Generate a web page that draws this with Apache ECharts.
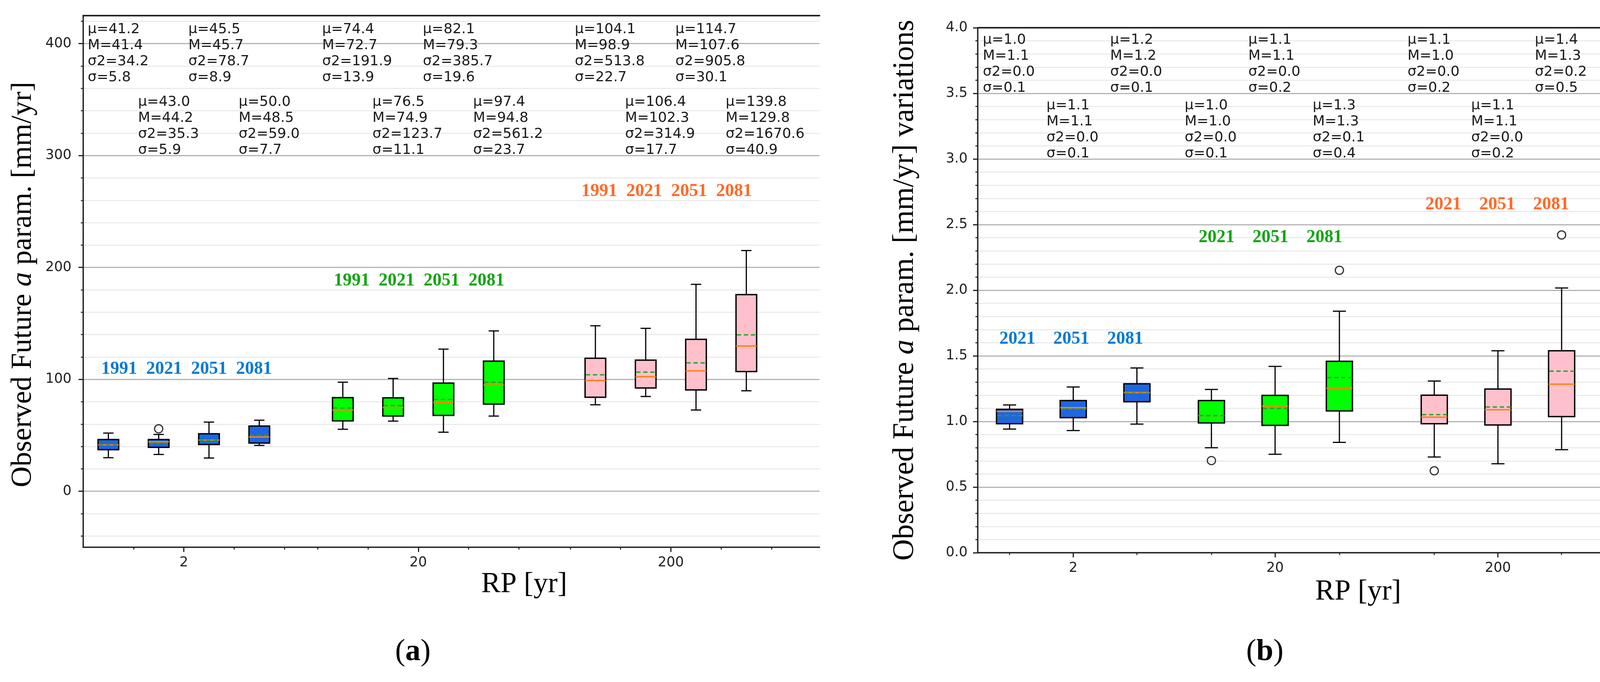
<!DOCTYPE html>
<html><head><meta charset="utf-8">
<script src="https://cdn.jsdelivr.net/npm/echarts@6/dist/echarts.min.js"></script>
<style>html,body{margin:0;padding:0;background:#fff}#c{width:4168px;height:1746px}</style>
</head><body><div id="c"></div>
<script>
// ================= DATA =================
const rpLabels = ['2', '20', '200'];
const yearsA = ['1991', '2021', '2051', '2081'];
const yearsB = ['2021', '2051', '2081'];

// ---- Panel (a): observed future a param [mm/yr] ----
const posA   = [0.5, 1.5, 2.5, 3.5, 5.16, 6.16, 7.16, 8.16, 10.18, 11.18, 12.18, 13.18];
const groupA = [0, 0, 0, 0, 1, 1, 1, 1, 2, 2, 2, 2];
const lowA   = [30.0, 32.9, 29.7, 41.0, 55.4, 62.7, 52.8, 67.2, 77.3, 84.7, 72.6, 89.8];
const q1A    = [37.2, 39.3, 41.8, 43.1, 62.9, 67.3, 67.8, 77.9, 84.0, 92.3, 90.6, 107.0];
const q3A    = [46.2, 46.2, 51.4, 58.3, 83.7, 83.5, 96.7, 116.3, 118.8, 117.2, 135.8, 175.7];
const highA  = [52.0, 50.8, 61.8, 63.5, 97.5, 100.8, 127.0, 143.3, 147.9, 145.6, 184.9, 215.1];
const muA    = [41.2, 43.0, 45.5, 50.0, 74.4, 76.5, 82.1, 97.4, 104.1, 106.4, 114.7, 139.8];
const medA   = [41.4, 44.2, 45.7, 48.5, 72.7, 74.9, 79.3, 94.8, 98.9, 102.3, 107.6, 129.8];
const varA   = [34.2, 35.3, 78.7, 59.0, 191.9, 123.7, 385.7, 561.2, 513.8, 314.9, 905.8, 1670.6];
const sdA    = [5.8, 5.9, 8.9, 7.7, 13.9, 11.1, 19.6, 23.7, 22.7, 17.7, 30.1, 40.9];
const outBoxA = [1];
const outValA = [55.8];
const majorTickA = [2.0, 6.66, 11.68];
const minorTickA = [1, 3, 4, 4.66, 5.66, 7.66, 8.66, 9.68, 10.68, 12.68, 13.68];
const yearLabelXA = [0.36, 4.98, 9.90];
const yearLabelYA = [109, 188, 268];
const statRowYA = [419.7, 354.8];

// ---- Panel (b): variations ----
const posB   = [0.5, 1.5, 2.5, 3.67, 4.67, 5.68, 7.17, 8.17, 9.17];
const groupB = [0, 0, 0, 1, 1, 1, 2, 2, 2];
const lowB   = [0.942, 0.931, 0.980, 0.800, 0.750, 0.841, 0.729, 0.678, 0.785];
const q1B    = [0.983, 1.029, 1.150, 0.989, 0.970, 1.080, 0.983, 0.973, 1.037];
const medB   = [1.077, 1.105, 1.220, 1.045, 1.117, 1.253, 1.033, 1.089, 1.284];
const q3B    = [1.092, 1.159, 1.287, 1.159, 1.199, 1.458, 1.200, 1.247, 1.539];
const highB  = [1.126, 1.263, 1.408, 1.244, 1.420, 1.840, 1.308, 1.539, 2.017];
const meanB  = [1.045, 1.095, 1.216, 1.045, 1.100, 1.334, 1.052, 1.110, 1.383];
const muB    = ['1.0', '1.1', '1.2', '1.0', '1.1', '1.3', '1.1', '1.1', '1.4'];
const mB     = ['1.1', '1.1', '1.2', '1.0', '1.1', '1.3', '1.0', '1.1', '1.3'];
const varB   = ['0.0', '0.0', '0.0', '0.0', '0.0', '0.1', '0.0', '0.0', '0.2'];
const sdB    = ['0.1', '0.1', '0.1', '0.1', '0.2', '0.4', '0.2', '0.2', '0.5'];
const outBoxB = [3, 5, 6, 8];
const outValB = [0.702, 2.152, 0.624, 2.421];
const majorTickB = [1.5, 4.67, 8.17];
const minorTickB = [0.5, 2.5, 3.67, 5.68, 7.17, 9.17];
const yearLabelXB = [0.34, 3.47, 7.03];
const yearLabelYB = [1.627, 2.402, 2.652];
const statRowYB = [3.967, 3.466];

// ================= STYLE =================
const boxFill = ['#1f66e0', '#00ff00', '#ffc0cb'];
const yearColor = ['#0a7ad0', '#12a512', '#ff6a28'];
const SANS = '"DejaVu Sans"';
const SERIF = '"Liberation Serif"';
const AXC = '#222';

function boxSeries(xi, yi, pos, grp, lo, q1, md, q3, hi, mn, boxW) {
  return {
    type: 'custom', xAxisIndex: xi, yAxisIndex: yi, z: 3, silent: true,
    data: pos.map((p, i) => [p, lo[i], q1[i], md[i], q3[i], hi[i], mn[i], grp[i]]),
    renderItem(params, api) {
      const x = api.value(0);
      const pLo = api.coord([x, api.value(1)]);
      const pQ1 = api.coord([x, api.value(2)]);
      const pMd = api.coord([x, api.value(3)]);
      const pQ3 = api.coord([x, api.value(4)]);
      const pHi = api.coord([x, api.value(5)]);
      const pMn = api.coord([x, api.value(6)]);
      const g = api.value(7);
      const bw = api.size([boxW, 0])[0];
      const cw = bw / 2;
      const cx = pLo[0];
      const ls = { stroke: '#000', lineWidth: 3 };
      return {
        type: 'group', children: [
          { type: 'line', shape: { x1: cx, y1: pQ3[1], x2: cx, y2: pHi[1] }, style: ls },
          { type: 'line', shape: { x1: cx, y1: pQ1[1], x2: cx, y2: pLo[1] }, style: ls },
          { type: 'line', shape: { x1: cx - cw / 2, y1: pHi[1], x2: cx + cw / 2, y2: pHi[1] }, style: ls },
          { type: 'line', shape: { x1: cx - cw / 2, y1: pLo[1], x2: cx + cw / 2, y2: pLo[1] }, style: ls },
          { type: 'rect', shape: { x: cx - bw / 2, y: pQ3[1], width: bw, height: pQ1[1] - pQ3[1] },
            style: { fill: boxFill[g], stroke: '#000', lineWidth: 3.5 } },
          { type: 'line', shape: { x1: cx - bw / 2, y1: pMd[1], x2: cx + bw / 2, y2: pMd[1] },
            style: { stroke: '#ff7f0e', lineWidth: 3.5 } },
          { type: 'line', shape: { x1: cx - bw / 2 + 2, y1: pMn[1], x2: cx + bw / 2, y2: pMn[1] },
            style: { stroke: '#2ca02c', lineWidth: 3.5, lineDash: [11, 7] } }
        ]
      };
    }
  };
}

function textSeries(xi, yi, pts, texts, colors, font, lineHeight, va) {
  return {
    type: 'custom', xAxisIndex: xi, yAxisIndex: yi, z: 4, silent: true,
    data: pts,
    renderItem(params, api) {
      const p = api.coord([api.value(0), api.value(1)]);
      return {
        type: 'text', x: p[0], y: p[1],
        style: { text: texts[params.dataIndex], fill: colors[params.dataIndex], font: font,
                 align: 'left', verticalAlign: va, lineHeight: lineHeight }
      };
    }
  };
}

function outlierSeries(xi, yi, pos, idx, vals) {
  return {
    type: 'scatter', xAxisIndex: xi, yAxisIndex: yi, z: 5, silent: true,
    symbol: 'circle', symbolSize: 21,
    itemStyle: { color: 'rgba(0,0,0,0)', borderColor: '#000', borderWidth: 3 },
    data: idx.map((b, k) => [pos[b], vals[k]])
  };
}

function xAxes(grid, max, major, minor) {
  const base = { type: 'value', gridIndex: grid, min: 0, max: max, splitLine: { show: false }, z: 1 };
  return [
    Object.assign({}, base, {
      position: 'bottom',
      axisLine: { show: true, onZero: false, lineStyle: { color: AXC, width: 3.5 } },
      axisTick: { show: true, customValues: major, length: 12, lineStyle: { color: AXC, width: 3 } },
      axisLabel: { show: true, customValues: major, margin: 22, color: AXC, fontSize: 35, fontFamily: SANS,
        formatter: v => { let k = 0; major.forEach((m, i) => { if (Math.abs(m - v) < Math.abs(major[k] - v)) k = i; }); return rpLabels[k]; } }
    }),
    Object.assign({}, base, {
      position: 'bottom',
      axisLine: { show: false, onZero: false },
      axisTick: { show: true, customValues: minor, length: 6, lineStyle: { color: AXC, width: 2.5 } },
      axisLabel: { show: false }
    }),
    Object.assign({}, base, {
      position: 'top',
      axisLine: { show: true, onZero: false, lineStyle: { color: AXC, width: 4 } },
      axisTick: { show: false }, axisLabel: { show: false }
    })
  ];
}

const chart = echarts.init(document.getElementById('c'), null, { renderer: 'canvas', width: 4168, height: 1746 });

function yNameStyle(size, pad) {
  return { fontFamily: SERIF, fontSize: size, color: '#000', padding: pad,
    rich: { i: { fontFamily: SERIF, fontSize: size, fontStyle: 'italic', color: '#000' } } };
}

const option = {
  animation: false,
  backgroundColor: '#fff',
  grid: [
    { left: 213, top: 40, width: 1885, height: 1361 },
    { left: 2503, top: 71, width: 1624, height: 1344 }
  ],
  xAxis: [].concat(
    xAxes(0, 14.635, majorTickA, minorTickA),
    xAxes(1, 9.963, majorTickB, minorTickB)
  ),
  yAxis: [
    {
      type: 'value', gridIndex: 0, min: -50, max: 425,
      axisLine: { show: true, onZero: false, lineStyle: { color: AXC, width: 3.5 } },
      axisTick: { show: true, customValues: [0, 100, 200, 300, 400], length: 12, lineStyle: { color: AXC, width: 3 } },
      axisLabel: { customValues: [0, 100, 200, 300, 400], margin: 30, color: AXC, fontSize: 35, fontFamily: SANS },
      splitLine: { show: true, lineStyle: { color: '#b4b4b4', width: 3 } },
      minorTick: { show: true, splitNumber: 5, length: 6, lineStyle: { color: AXC, width: 2.5 } },
      minorSplitLine: { show: true, lineStyle: { color: '#ebebeb', width: 3 } },
      name: 'Observed Future {i|a} param. [mm/yr]', nameLocation: 'middle', nameRotate: 90, nameGap: 116,
      nameTextStyle: yNameStyle(74, [0, 16, 0, 0])
    },
    {
      type: 'value', gridIndex: 1, min: 0, max: 4, interval: 0.5,
      axisLine: { show: true, onZero: false, lineStyle: { color: AXC, width: 3.5 } },
      axisTick: { show: true, length: 12, lineStyle: { color: AXC, width: 3 } },
      axisLabel: { margin: 26, color: AXC, fontSize: 35, fontFamily: SANS, formatter: v => v.toFixed(1) },
      splitLine: { show: true, lineStyle: { color: '#b4b4b4', width: 3 } },
      minorTick: { show: true, splitNumber: 5, length: 6, lineStyle: { color: AXC, width: 2.5 } },
      minorSplitLine: { show: true, lineStyle: { color: '#ebebeb', width: 3 } },
      name: 'Observed Future {i|a} param. [mm/yr] variations', nameLocation: 'middle', nameRotate: 90, nameGap: 148,
      nameTextStyle: yNameStyle(76, 0)
    }
  ],
  title: [
    { text: 'RP [yr]', left: 1342, top: 1497, textAlign: 'center', textVerticalAlign: 'middle', padding: 0,
      textStyle: { fontFamily: SERIF, fontSize: 74, fontWeight: 'normal', color: '#000' } },
    { text: 'RP [yr]', left: 3477, top: 1516, textAlign: 'center', textVerticalAlign: 'middle', padding: 0,
      textStyle: { fontFamily: SERIF, fontSize: 74, fontWeight: 'normal', color: '#000' } },
    { text: '({b|a})', left: 1057, top: 1670, textAlign: 'center', textVerticalAlign: 'middle', padding: 0,
      textStyle: { fontFamily: SERIF, fontSize: 78, fontWeight: 'normal', color: '#000',
        rich: { b: { fontFamily: SERIF, fontSize: 78, fontWeight: 'bold', color: '#000' } } } },
    { text: '({b|b})', left: 3238, top: 1670, textAlign: 'center', textVerticalAlign: 'middle', padding: 0,
      textStyle: { fontFamily: SERIF, fontSize: 78, fontWeight: 'normal', color: '#000',
        rich: { b: { fontFamily: SERIF, fontSize: 78, fontWeight: 'bold', color: '#000' } } } }
  ],
  series: [
    boxSeries(0, 0, posA, groupA, lowA, q1A, medA, q3A, highA, muA, 0.41),
    outlierSeries(0, 0, posA, outBoxA, outValA),
    textSeries(0, 0,
      posA.map((p, i) => [p - 0.41, statRowYA[i % 2]]),
      posA.map((_, i) => 'μ=' + muA[i].toFixed(1) + '\nM=' + medA[i].toFixed(1) + '\nσ2=' + varA[i].toFixed(1) + '\nσ=' + sdA[i].toFixed(1)),
      posA.map(() => '#1a1a1a'), '36px ' + SANS, 41, 'top'),
    textSeries(0, 0,
      yearLabelXA.map((x, k) => [x, yearLabelYA[k]]),
      yearLabelXA.map(() => yearsA.join('  ')),
      yearColor, 'bold 46px ' + SERIF, 46, 'middle'),

    boxSeries(3, 1, posB, groupB, lowB, q1B, medB, q3B, highB, meanB, 0.41),
    outlierSeries(3, 1, posB, outBoxB, outValB),
    textSeries(3, 1,
      posB.map((p, i) => [p - 0.42, statRowYB[i % 2]]),
      posB.map((_, i) => 'μ=' + muB[i] + '\nM=' + mB[i] + '\nσ2=' + varB[i] + '\nσ=' + sdB[i]),
      posB.map(() => '#1a1a1a'), '36px ' + SANS, 41, 'top'),
    textSeries(3, 1,
      yearLabelXB.map((x, k) => [x, yearLabelYB[k]]),
      yearLabelXB.map(() => yearsB.join('    ')),
      yearColor, 'bold 46px ' + SERIF, 46, 'middle')
  ]
};
chart.setOption(option);
</script>
</body></html>
